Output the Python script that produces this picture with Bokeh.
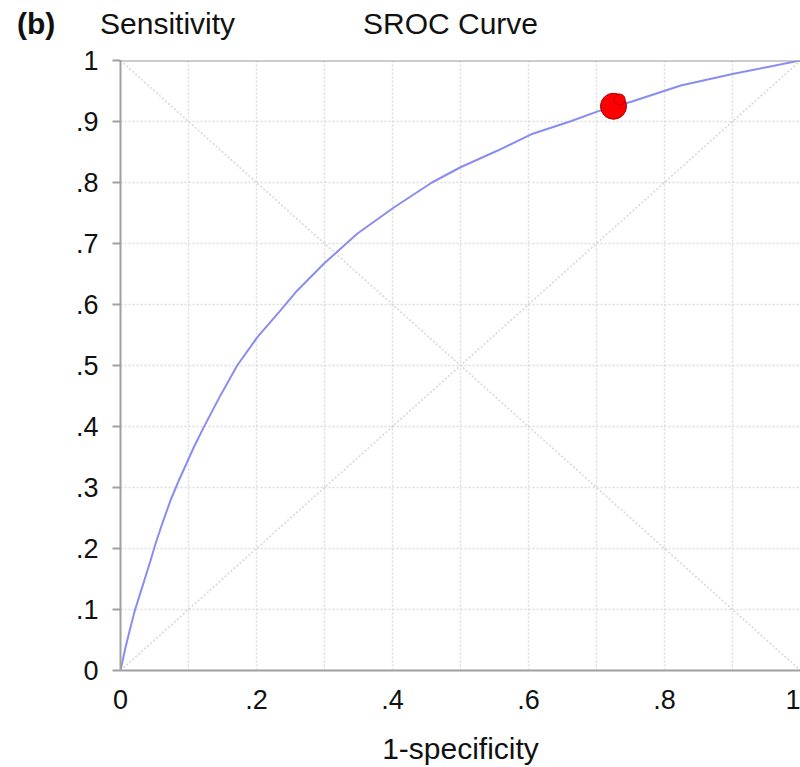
from bokeh.plotting import figure
from bokeh.models import Range1d, FixedTicker, Span, Div
from bokeh.layouts import column
from bokeh.embed import file_html
from bokeh.resources import INLINE

# ---- data ----
curve_fpr = [0, 0.0074, 0.0147, 0.021, 0.0319, 0.0441, 0.0515, 0.0613, 0.0735,
             0.0858, 0.1078, 0.1225, 0.147, 0.1716, 0.201, 0.235, 0.26, 0.299,
             0.348, 0.402, 0.458, 0.5, 0.554, 0.604, 0.662, 0.703, 0.725,
             0.75, 0.824, 0.9, 0.95, 1.0]
curve_sens = [0, 0.038, 0.071, 0.098, 0.1366, 0.180, 0.2077, 0.2405, 0.2787,
              0.3115, 0.366, 0.399, 0.451, 0.5, 0.546, 0.590, 0.623, 0.6667,
              0.716, 0.759, 0.8, 0.825, 0.852, 0.879, 0.9005, 0.917, 0.925,
              0.932, 0.959, 0.978, 0.989, 1.0]
study_fpr = [0.725, 0.734]
study_sens = [0.925, 0.936]
x_ticks = [0, 0.2, 0.4, 0.6, 0.8, 1]
x_tick_labels = ["0", ".2", ".4", ".6", ".8", "1"]
y_ticks = [0, 0.1, 0.2, 0.3, 0.4, 0.5, 0.6, 0.7, 0.8, 0.9, 1]
y_tick_labels = ["0", ".1", ".2", ".3", ".4", ".5", ".6", ".7", ".8", ".9", "1"]
grid_ticks = [0.1, 0.2, 0.3, 0.4, 0.5, 0.6, 0.7, 0.8, 0.9]
diag_a_x, diag_a_y = [0, 1], [0, 1]
diag_b_x, diag_b_y = [0, 1], [1, 0]
panel_tag = "(b)"
y_title = "Sensitivity"
chart_title = "SROC Curve"
x_title = "1-specificity"

FONT = "Liberation Sans"
FS = "27px"
AXIS_COL = "#a0a0a0"

header = Div(
    text=(
        '<div style="position:relative;width:800px;height:40px;'
        "font-family:'Liberation Sans',Arial,sans-serif;font-size:30px;"
        'color:#111111;line-height:normal;white-space:nowrap">'
        f'<span style="position:absolute;left:17px;top:7px;font-weight:bold">{panel_tag}</span>'
        f'<span style="position:absolute;left:100px;top:7px">{y_title}</span>'
        f'<span style="position:absolute;left:363px;top:7px">{chart_title}</span>'
        '</div>'
    ),
    width=800, height=40, margin=(0, 0, 0, 0),
)

p = figure(width=800, height=727, output_backend="svg", toolbar_location=None,
           x_range=Range1d(0, 1), y_range=Range1d(0, 1),
           min_border_left=120, min_border_right=0, min_border_top=20,
           min_border_bottom=97, margin=(0, 0, 0, 0))
p.outline_line_color = None
p.background_fill_color = "white"
p.border_fill_color = "white"

# grids
p.xgrid.ticker = FixedTicker(ticks=grid_ticks)
p.ygrid.ticker = FixedTicker(ticks=grid_ticks)
for g in (p.xgrid, p.ygrid):
    g.grid_line_color = "#dcdcdc"
    g.grid_line_dash = "2 2"
    g.grid_line_width = 1.5

# axes
xa = p.xaxis[0]
xa.ticker = FixedTicker(ticks=x_ticks)
xa.major_label_overrides = {t: l for t, l in zip(x_ticks, x_tick_labels)}
xa.major_tick_out = 0
xa.major_tick_in = 0
xa.minor_tick_out = 0
xa.minor_tick_in = 0
xa.major_label_standoff = 19
xa.axis_line_color = AXIS_COL
xa.axis_line_width = 2
xa.major_label_text_font = FONT
xa.major_label_text_font_size = FS
xa.major_label_text_color = "#111111"
xa.axis_label = x_title
xa.axis_label_text_font = FONT
xa.axis_label_text_font_size = "30px"
xa.axis_label_text_font_style = "normal"
xa.axis_label_text_color = "#111111"
xa.axis_label_standoff = 20

ya = p.yaxis[0]
ya.ticker = FixedTicker(ticks=y_ticks)
ya.major_label_overrides = {t: l for t, l in zip(y_ticks, y_tick_labels)}
ya.major_tick_out = 8
ya.major_tick_in = 0
ya.minor_tick_out = 0
ya.minor_tick_in = 0
ya.major_tick_line_color = AXIS_COL
ya.major_tick_line_width = 2
ya.major_label_standoff = 14
ya.axis_line_color = AXIS_COL
ya.axis_line_width = 2
ya.major_label_text_font = FONT
ya.major_label_text_font_size = FS
ya.major_label_text_color = "#111111"

# top border line
p.add_layout(Span(location=1, dimension="width", line_color="#999999", line_width=2))

# diagonals
p.line(diag_a_x, diag_a_y, line_color="#d6d6d6", line_width=1.5, line_dash="2 2")
p.line(diag_b_x, diag_b_y, line_color="#d6d6d6", line_width=1.5, line_dash="2 2")

# SROC curve
p.line(curve_fpr, curve_sens, line_color="#8a8cf0", line_width=2)

# study points
p.scatter(study_fpr[:1], study_sens[:1], size=26, fill_color="#ff0000",
          line_color="#a00000", line_width=1)
p.scatter(study_fpr[1:], study_sens[1:], size=11, fill_color="#ff0000",
          line_color="#a00000", line_width=1)

layout = column(header, p, spacing=0, margin=(0, 0, 0, 0))

open("out.html", "w").write(file_html(layout, INLINE))
